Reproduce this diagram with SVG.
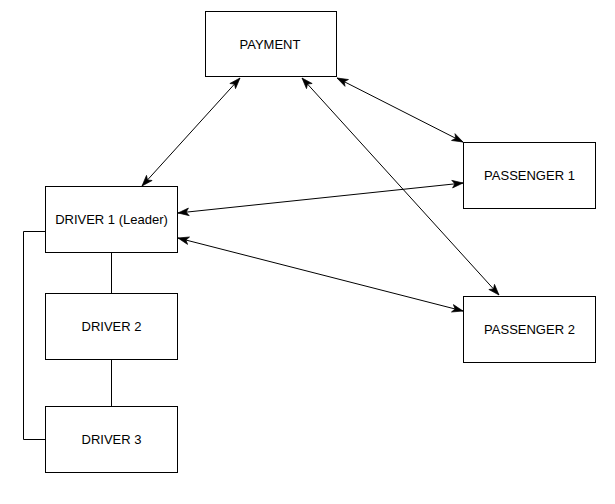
<svg xmlns="http://www.w3.org/2000/svg" width="615" height="504" viewBox="0 0 615 504">
<style>
.box{fill:#fff;stroke:#000;stroke-width:1}
.lbl{font-family:"Liberation Sans",Arial,sans-serif;font-size:13px;fill:#000;text-anchor:middle;dominant-baseline:central}
.c{fill:none;stroke:#000;stroke-width:1}
.a{marker-start:url(#ah);marker-end:url(#ah)}
</style>
<defs>
<marker id="ah" markerUnits="userSpaceOnUse" markerWidth="12" markerHeight="10" viewBox="0 0 11 8" refX="10.5" refY="4" orient="auto-start-reverse">
<path d="M0.5,0.5 L10.5,4 L0.5,7.5 L3,4 Z" fill="#000" stroke="#000" stroke-width="0.6"/>
</marker>
</defs>
<rect width="615" height="504" fill="#fff"/>
<g id="connectors">
<path class="c a" d="M240,78 L142,186"/>
<path class="c a" d="M302,78 L499,295"/>
<path class="c a" d="M337,78 L463,142"/>
<path class="c a" d="M178,213 L463,183"/>
<path class="c a" d="M178,238 L463,311"/>
<path class="c" d="M111.5,252.5 L111.5,293.5"/>
<path class="c" d="M111.5,359.5 L111.5,406.5"/>
<path class="c" d="M45.5,231.5 L23.5,231.5 L23.5,439.5 L45.5,439.5"/>
</g>
<g id="payment"><rect class="box" x="205.5" y="11.5" width="131" height="65"/><text class="lbl" x="270" y="44">PAYMENT</text></g>
<g id="driver1"><rect class="box" x="45.5" y="186.5" width="132" height="66"/><text class="lbl" x="111.5" y="219.5">DRIVER 1 (Leader)</text></g>
<g id="driver2"><rect class="box" x="45.5" y="293.5" width="132" height="66"/><text class="lbl" x="111.5" y="326.5">DRIVER 2</text></g>
<g id="driver3"><rect class="box" x="45.5" y="406.5" width="132" height="66"/><text class="lbl" x="111.5" y="439.5">DRIVER 3</text></g>
<g id="passenger1"><rect class="box" x="463.5" y="142.5" width="132" height="66"/><text class="lbl" x="529.5" y="175.5">PASSENGER 1</text></g>
<g id="passenger2"><rect class="box" x="463.5" y="296.5" width="132" height="66"/><text class="lbl" x="529.5" y="329.5">PASSENGER 2</text></g>
</svg>
